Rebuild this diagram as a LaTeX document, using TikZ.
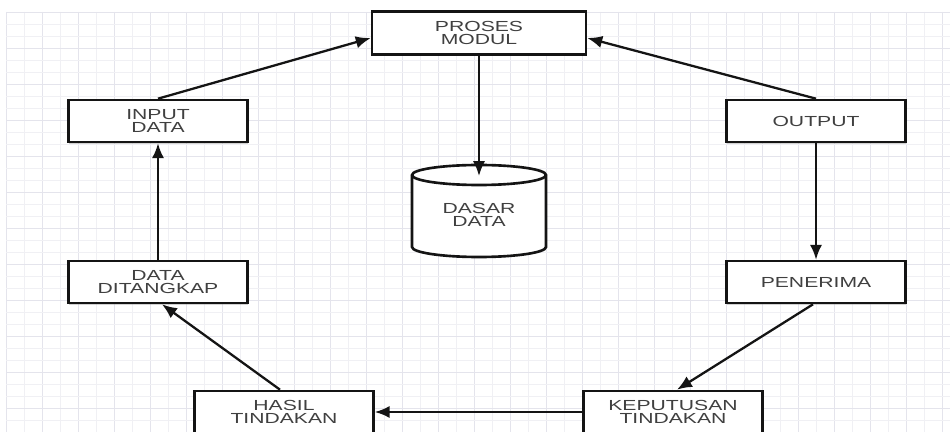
\documentclass[tikz,border=0pt]{standalone}
\usepackage{fontspec}
\newfontfamily\lblfont[FakeStretch=1.45]{Liberation Sans}
\usetikzlibrary{arrows.meta,shadows}
\definecolor{gridminor}{HTML}{F0F0F4}
\definecolor{gridmajor}{HTML}{E4E4EC}
\definecolor{txt}{HTML}{404040}
\definecolor{ink}{HTML}{141414}
\tikzset{
  box/.style={draw=ink, line width=1.5pt, fill=white, text=txt,
    font=\lblfont\fontsize{8.3pt}{7.8pt}\selectfont, align=center,
    minimum width=3.58cm, minimum height=0.84cm, inner sep=0pt,
    drop shadow={shadow xshift=0.4pt, shadow yshift=-0.9pt, opacity=0.35}},
  wide/.style={minimum width=4.28cm, minimum height=0.86cm},
  label/.style={text=txt, font=\lblfont\fontsize{8.3pt}{7.8pt}\selectfont, align=center, inner sep=0pt},
  flow/.style={draw=ink, line width=1.3pt, -{Latex[length=8.5pt,width=7pt]}},
  cyl/.style={draw=ink, line width=1.5pt, fill=white}
}
\begin{document}
\begin{tikzpicture}[x=0.02cm, y=-0.02cm]
  % page frame
  \useasboundingbox (0,0) rectangle (950,432);
  \clip (0,0) rectangle (950,432);
  \fill[white] (0,0) rectangle (950,432);

  % background grid
  \foreach \i in {0,...,52} {
    \pgfmathtruncatemacro{\odd}{mod(\i,2)}
    \ifnum\odd=0
      \draw[gridmajor, line width=0.5pt] ({6+18*\i},12) -- ({6+18*\i},432);
    \else
      \draw[gridminor, line width=0.4pt] ({6+18*\i},12) -- ({6+18*\i},432);
    \fi
  }
  \foreach \j in {0,...,35} {
    \pgfmathtruncatemacro{\odd}{mod(\j,3)}
    \ifnum\odd=0
      \draw[gridmajor, line width=0.5pt] (6,{12+12*\j}) -- (950,{12+12*\j});
    \else
      \draw[gridminor, line width=0.4pt] (6,{12+12*\j}) -- (950,{12+12*\j});
    \fi
  }

  % process boxes
  \node[box, wide] (pm)   at (479,33)  {PROSES\\MODUL};
  \node[box]       (inp)  at (158,121) {INPUT\\DATA};
  \node[box]       (out)  at (816,121) {OUTPUT};
  \node[box]       (dt)   at (158,282) {DATA\\DITANGKAP};
  \node[box]       (pen)  at (816,282) {PENERIMA};
  \node[box]       (has)  at (284,412) {HASIL\\TINDAKAN};
  \node[box]       (kep)  at (673,412) {KEPUTUSAN\\TINDAKAN};

  % database cylinder
  \draw[cyl] (412,175) -- (412,247) arc[start angle=180, end angle=360, x radius=67, y radius=-10]
             -- (546,175) arc[start angle=0, end angle=180, x radius=67, y radius=-10] -- cycle;
  \draw[cyl, fill=none] (412,175) arc[start angle=180, end angle=360, x radius=67, y radius=-10];
  \node[label] (db) at (479,215) {DASAR\\DATA};
  \coordinate (dbtop) at (479,176);

  % connectors
  \draw[flow] (inp.north) -- ([yshift=-0.1cm]pm.west);
  \draw[flow] (out.north) -- ([yshift=-0.1cm]pm.east);
  \draw[flow] (pm.south) -- (dbtop);
  \draw[flow] (out.south) -- (pen.north);
  \draw[flow] ([xshift=-0.06cm]pen.south) -- ([xshift=0.08cm]kep.north);
  \draw[flow] (kep.west) -- (has.east);
  \draw[flow] ([xshift=-0.08cm]has.north) -- ([xshift=0.08cm]dt.south);
  \draw[flow] (dt.north) -- (inp.south);
\end{tikzpicture}
\end{document}
